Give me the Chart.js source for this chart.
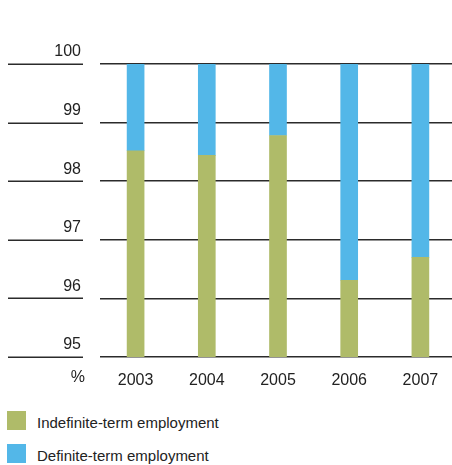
<!DOCTYPE html>
<html>
<head>
<meta charset="utf-8">
<script src="https://cdn.jsdelivr.net/npm/chart.js@4.4.1/dist/chart.umd.min.js"></script>
<style>
  html, body { margin: 0; padding: 0; background: #fff; width: 452px; height: 465px; overflow: hidden; }
  .chart-wrapper { position: relative; width: 456px; height: 395px; }
  .legend { position: absolute; left: 7px; top: 411px; font: 15px 'Liberation Sans', Arial, sans-serif; color: #222; }
  .legend-item { display: flex; align-items: center; height: 19px; margin-bottom: 14px; }
  .legend-item span:last-child { position: relative; top: 2px; }
  .swatch { width: 19px; height: 19px; margin-right: 11px; }
</style>
</head>
<body>
<div class="chart-wrapper"><canvas id="chart"></canvas></div>
<div class="legend" id="legend"></div>
<script>
const years = ['2003', '2004', '2005', '2006', '2007'];
const indefinite = [98.52, 98.44, 98.78, 96.31, 96.70];
const definite = [1.48, 1.56, 1.22, 3.69, 3.30];
const seriesNames = ['Indefinite-term employment', 'Definite-term employment'];
const yMin = 95;
const yMax = 100;
const unitLabel = '%';

const GREEN = '#afbb69';
const BLUE = '#53b7e8';
const LINE = '#2b2b2b';
const FONT = "'Liberation Sans', Arial, sans-serif";

// short rules under the y labels, plus the unit label next to the years
const sideRules = {
  id: 'sideRules',
  afterDraw(chart) {
    const { ctx, scales: { y, x } } = chart;
    ctx.save();
    ctx.strokeStyle = LINE;
    ctx.lineWidth = 1.5;
    y.ticks.forEach((t) => {
      const py = Math.round(y.getPixelForValue(t.value)) + 0.25;
      ctx.beginPath();
      ctx.moveTo(8, py);
      ctx.lineTo(83, py);
      ctx.stroke();
    });
    ctx.fillStyle = '#222';
    ctx.font = '16px ' + FONT;
    ctx.textAlign = 'right';
    ctx.textBaseline = 'middle';
    ctx.fillText(unitLabel, 85, x.top + 21);
    ctx.restore();
  }
};

const ctx = document.getElementById('chart').getContext('2d');
new Chart(ctx, {
  type: 'bar',
  data: {
    labels: years,
    datasets: [
      { label: seriesNames[0], data: indefinite, backgroundColor: GREEN, borderWidth: 0, barThickness: 17 },
      { label: seriesNames[1], data: definite, backgroundColor: BLUE, borderWidth: 0, barThickness: 17 }
    ]
  },
  options: {
    responsive: true,
    maintainAspectRatio: false,
    animation: false,
    layout: { padding: { top: 64, right: 0, bottom: 0, left: 0 } },
    plugins: {
      legend: { display: false },
      tooltip: { enabled: false }
    },
    scales: {
      x: {
        stacked: true,
        grid: { display: false },
        border: { display: false },
        ticks: { color: '#222', font: { family: FONT, size: 16 }, padding: 6 },
        afterFit(scale) { scale.height = 38; }
      },
      y: {
        stacked: true,
        min: yMin,
        max: yMax,
        grid: { color: LINE, lineWidth: 1.5, drawTicks: false },
        border: { display: false },
        ticks: {
          stepSize: 1,
          color: '#222',
          font: { family: FONT, size: 16 },
          padding: 19,
          labelOffset: -12
        },
        afterFit(scale) { scale.width = 100; }
      }
    }
  },
  plugins: [sideRules]
});

// legend below the chart
const legend = document.getElementById('legend');
[GREEN, BLUE].forEach((c, i) => {
  const item = document.createElement('div');
  item.className = 'legend-item';
  item.innerHTML = '<span class="swatch" style="background:' + c + '"></span><span>' + seriesNames[i] + '</span>';
  legend.appendChild(item);
});
</script>
</body>
</html>
